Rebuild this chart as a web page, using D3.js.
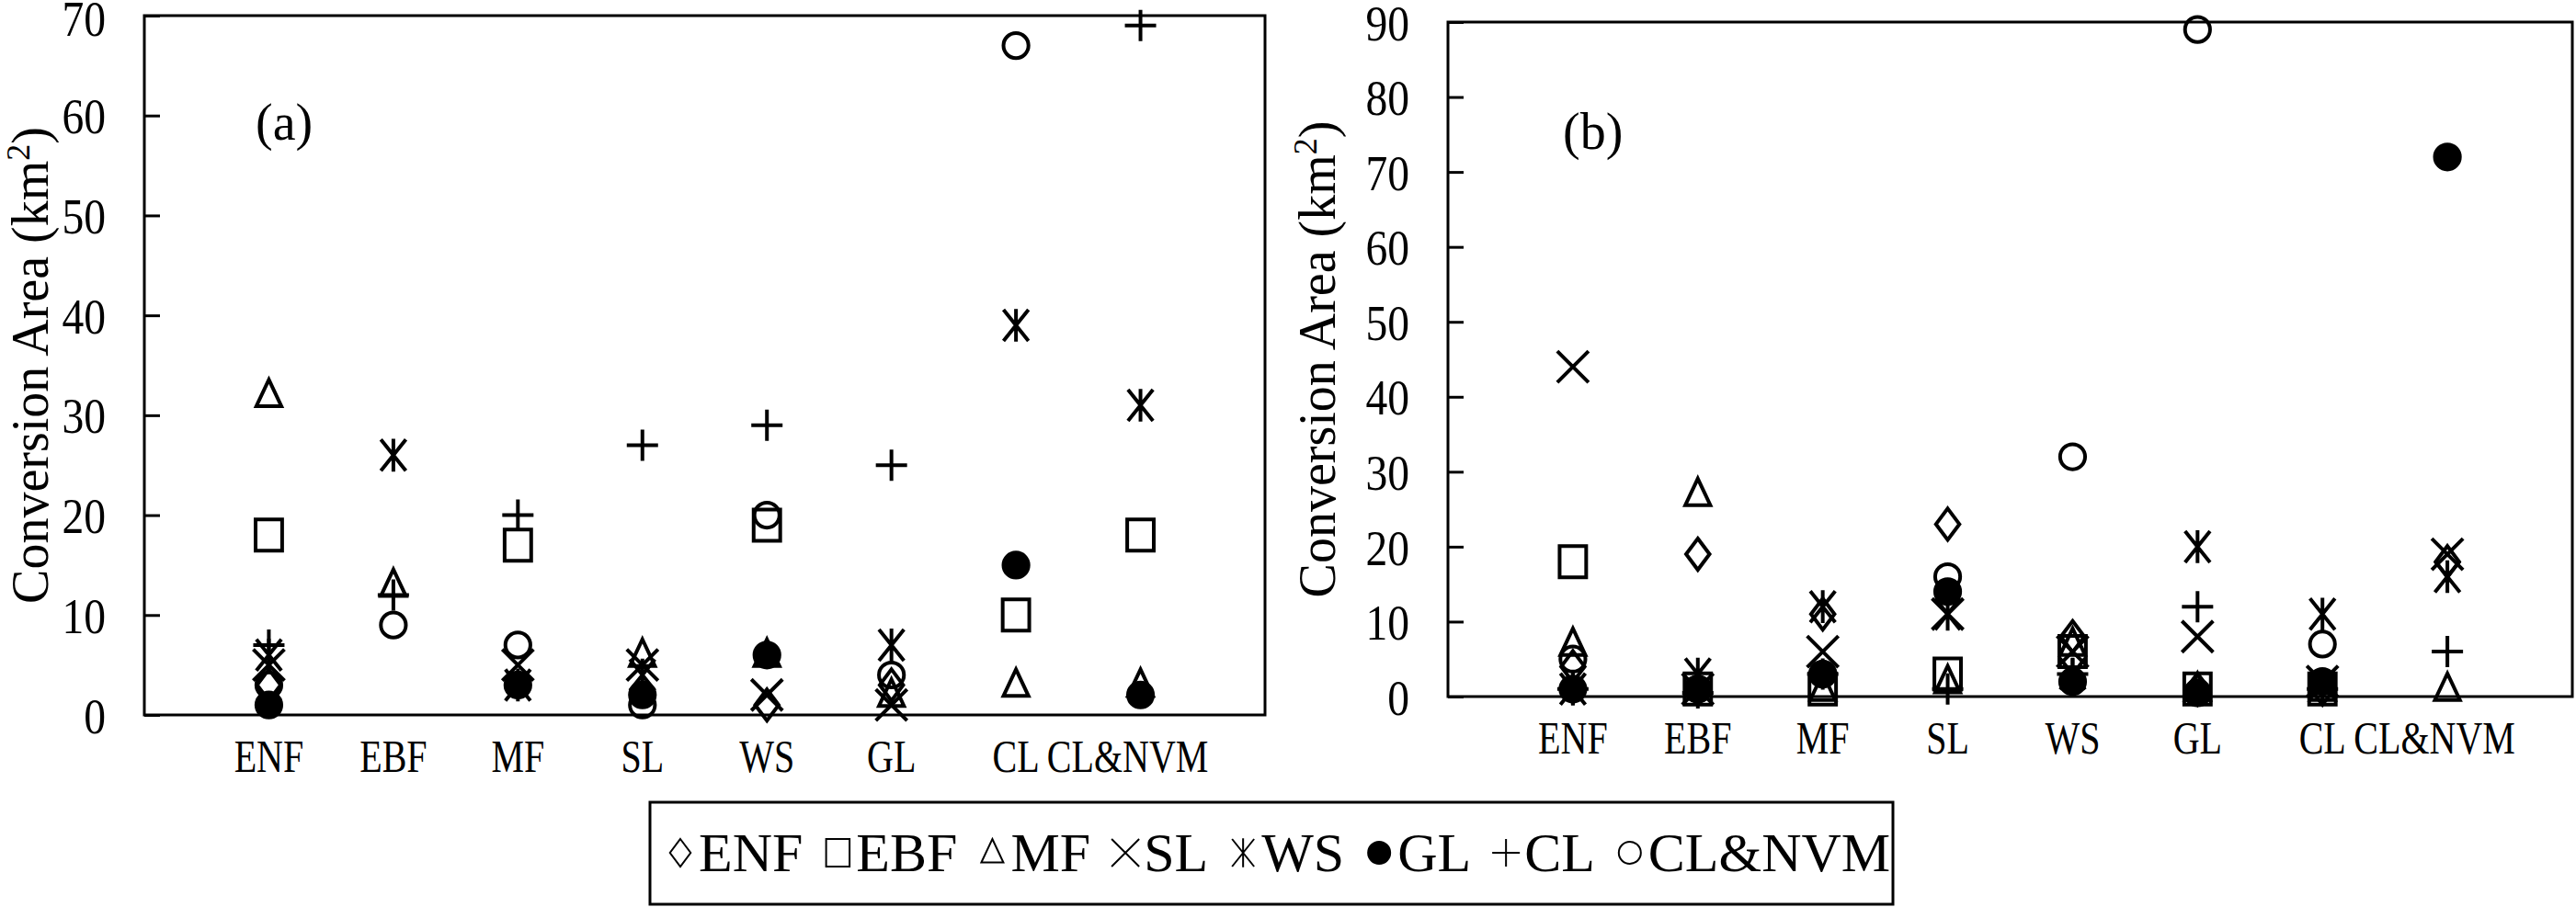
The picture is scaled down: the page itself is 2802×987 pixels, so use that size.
<!DOCTYPE html>
<html>
<head>
<meta charset="utf-8">
<script src="https://cdn.jsdelivr.net/npm/d3@7"></script>
<style>
  body { margin: 0; background: #fff; }
  text { font-family: "Liberation Serif", "DejaVu Serif", serif; fill: #000; }
</style>
</head>
<body>
<svg id="chart" width="2802" height="987"></svg>
<script>
// land cover categories (x axis) and series (marker types)
const categories = ["ENF", "EBF", "MF", "SL", "WS", "GL", "CL", "CL&NVM"];
const seriesNames = ["ENF", "EBF", "MF", "SL", "WS", "GL", "CL", "CL&NVM"];
const yTicksA = [0, 10, 20, 30, 40, 50, 60, 70];
const yTicksB = [0, 10, 20, 30, 40, 50, 60, 70, 80, 90];

// panel (a): one array per series, value per category (null = not visible)
const enfA   = [3, null, null, null, 1, 3, null, null];
const ebfA   = [18, null, 17, null, 19, null, 10, 18];
const mfA    = [32, 13, null, 6, 6, 2, 3, 3];
const slA    = [5, null, 5, 5, 2, 1, null, null];
const wsA    = [6, 26, 3, 4, null, 7, 39, 31];
const glA    = [1, null, 3, 2, 6, null, 15, 2];
const clA    = [7, 12, 20, 27, 29, 25, null, 69];
const clnvmA = [3, 9, 7, 1, 20, 4, 67, null];

// panel (b)
const enfB   = [4, 19, 11, 23, 8, 1, 1, 18];
const ebfB   = [18, 1, 1, 3, 6, 1, 1, null];
const mfB    = [7, 27, 1, 2, 7, 1, 1, 1];
const slB    = [44, 1, 6, 11, 6, 8, 2, 19];
const wsB    = [1, 3, 12, 11, 3, 20, 11, 16];
const glB    = [1, 1, 3, 14, 2, 0.5, 2, 72];
const clB    = [1, 0.5, 3, 1, 3, 12, 1, 6];
const clnvmB = [5, 1, 3, 16, 32, 89, 7, null];

const seriesA = [enfA, ebfA, mfA, slA, wsA, glA, clA, clnvmA];
const seriesB = [enfB, ebfB, mfB, slB, wsB, glB, clB, clnvmB];

const svg = d3.select("#chart");

// marker path generator, r = half size
function marker(type, r) {
  const p = d3.path();
  if (type === 0) { // diamond
    p.moveTo(0, -r); p.lineTo(r * 0.75, 0); p.lineTo(0, r); p.lineTo(-r * 0.75, 0); p.closePath();
  } else if (type === 1) { // square
    p.rect(-r * 0.85, -r, r * 1.7, r * 2);
  } else if (type === 2) { // triangle
    p.moveTo(0, -r); p.lineTo(r * 0.8, r * 0.7); p.lineTo(-r * 0.8, r * 0.7); p.closePath();
  } else if (type === 3) { // x
    p.moveTo(-r, -r); p.lineTo(r, r); p.moveTo(r, -r); p.lineTo(-r, r);
  } else if (type === 4) { // asterisk
    p.moveTo(-r * 0.8, -r); p.lineTo(r * 0.8, r); p.moveTo(r * 0.8, -r); p.lineTo(-r * 0.8, r);
    p.moveTo(0, -r * 1.05); p.lineTo(0, r * 1.05);
  } else if (type === 5 || type === 7) { // dot / circle
    p.moveTo(r * 0.8, 0);
    p.arc(0, 0, r * 0.8, 0, Math.PI * 2);
  } else if (type === 6) { // plus
    p.moveTo(-r, 0); p.lineTo(r, 0); p.moveTo(0, -r); p.lineTo(0, r);
  }
  return p.toString();
}

function panel(cfg) {
  const { left, right, top, bottom, maxY, ticks, series, label, labelPos, titleX } = cfg;
  const x = d3.scalePoint().domain(categories).range([left, right]).padding(1);
  const y = d3.scaleLinear().domain([0, maxY]).range([bottom, top]);
  const g = svg.append("g");

  g.append("rect").attr("x", left).attr("y", top).attr("width", right - left).attr("height", bottom - top)
    .attr("fill", "none").attr("stroke", "#000").attr("stroke-width", 3);

  const yAxis = g.append("g").attr("transform", `translate(${left},0)`)
    .call(d3.axisRight(y).tickValues(ticks).tickSize(17).tickFormat(""));
  yAxis.select(".domain").remove();
  yAxis.selectAll("line").attr("stroke-width", 3);

  g.selectAll(".ylab").data(ticks).join("text")
    .attr("transform", d => `translate(${left - 42},${Math.max(y(d), 19)}) scale(0.85,1)`)
    .attr("dy", "0.35em")
    .attr("text-anchor", "end").attr("font-size", 56).text(d => d);

  g.selectAll(".xlab").data(categories).join("text")
    .attr("transform", d => `translate(${x(d) - (d === "CL&NVM" ? 14 : 0)},${bottom + 62}) scale(0.8,1)`)
    .attr("text-anchor", "middle").attr("font-size", 50).text(d => d);

  const title = g.append("text").attr("transform", `translate(${titleX},${(top + bottom) / 2}) rotate(-90)`)
    .attr("text-anchor", "middle").attr("font-size", 56);
  title.append("tspan").text("Conversion Area (km");
  title.append("tspan").attr("font-size", 36).attr("dy", -20).text("2");
  title.append("tspan").attr("dy", 20).text(")");

  g.append("text").attr("x", labelPos[0]).attr("y", labelPos[1]).attr("font-size", 56).text(label);

  series.forEach((vals, si) => {
    g.append("g").selectAll("path").data(categories.map((c, i) => ({ c, v: vals[i] })).filter(d => d.v != null))
      .join("path")
      .attr("transform", d => `translate(${x(d.c)},${y(d.v)})`)
      .attr("d", marker(si, 17))
      .attr("fill", si === 5 ? "#000" : "none")
      .attr("stroke", "#000").attr("stroke-width", 4);
  });
}

panel({ left: 157, right: 1376, top: 17, bottom: 778, maxY: 70, ticks: yTicksA, series: seriesA,
  label: "(a)", labelPos: [278, 152], titleX: 52 });
panel({ left: 1575, right: 2798, top: 24, bottom: 758, maxY: 90, ticks: yTicksB, series: seriesB,
  label: "(b)", labelPos: [1700, 162], titleX: 1452 });

// legend
const lg = svg.append("g");
lg.append("rect").attr("x", 707).attr("y", 873).attr("width", 1352).attr("height", 111)
  .attr("fill", "none").attr("stroke", "#000").attr("stroke-width", 3);
let lx = 740;
seriesNames.forEach((name, i) => {
  lg.append("path").attr("transform", `translate(${lx},${928})`).attr("d", marker(i, 15))
    .attr("fill", i === 5 ? "#000" : "none").attr("stroke", "#000").attr("stroke-width", 2);
  const t = lg.append("text").attr("x", lx + 20).attr("y", 948).attr("font-size", 60).text(name);
  lx += 20 + t.node().getComputedTextLength() + 38;
});
</script>
</body>
</html>
